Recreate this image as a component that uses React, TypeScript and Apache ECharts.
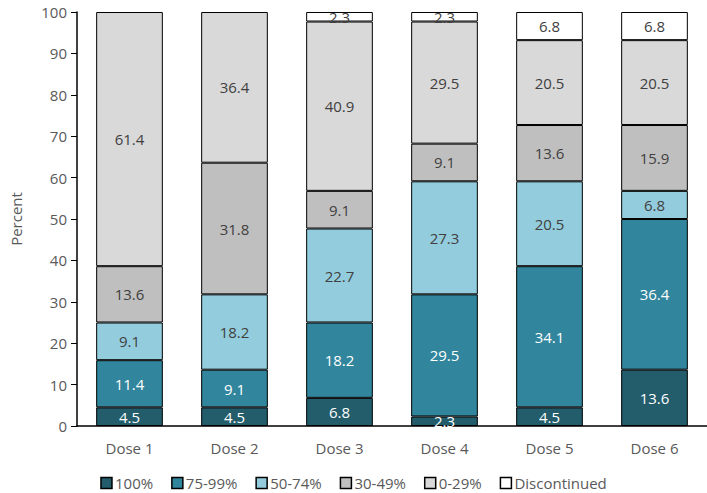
import React, { useEffect, useRef } from "react";
import * as echarts from "echarts";

const categories = ["Dose 1", "Dose 2", "Dose 3", "Dose 4", "Dose 5", "Dose 6"];
const s100 = [4.5, 4.5, 6.8, 2.3, 4.5, 13.6];
const s75 = [11.4, 9.1, 18.2, 29.5, 34.1, 36.4];
const s50 = [9.1, 18.2, 22.7, 27.3, 20.5, 6.8];
const s30 = [13.6, 31.8, 9.1, 9.1, 13.6, 15.9];
const s0 = [61.4, 36.4, 40.9, 29.5, 20.5, 20.5];
const sDisc = [0, 0, 2.3, 2.3, 6.8, 6.8];
const yTicks = [0, 10, 20, 30, 40, 50, 60, 70, 80, 90, 100];

const seriesDefs = [
  { name: "100%", data: s100, color: "#235c6b", label: "#ffffff" },
  { name: "75-99%", data: s75, color: "#31859c", label: "#ffffff" },
  { name: "50-74%", data: s50, color: "#93cddd", label: "#404040" },
  { name: "30-49%", data: s30, color: "#bfbfbf", label: "#404040" },
  { name: "0-29%", data: s0, color: "#d9d9d9", label: "#404040" },
  { name: "Discontinued", data: sDisc, color: "#ffffff", label: "#404040" },
];

const FONT = "'Open Sans', 'Noto Sans', sans-serif";

export default function App() {
  const ref = useRef<HTMLDivElement>(null);
  useEffect(() => {
    if (!ref.current) return;
    const chart = echarts.init(ref.current, undefined, { renderer: "svg" });
    chart.setOption({
      animation: false,
      textStyle: { fontFamily: FONT },
      grid: { left: 66, right: 0, top: 12, bottom: 67, containLabel: false },
      legend: {
        top: 474,
        left: "center",
        padding: 0,
        itemWidth: 11,
        itemHeight: 11,
        itemGap: 18,
        icon: "rect",
        textStyle: { fontFamily: FONT, fontSize: 15, lineHeight: 18, color: "#595959", padding: [0, 0, 0, -2] },
        data: seriesDefs.map((s) => ({ name: s.name, itemStyle: { borderColor: "#000", borderWidth: 1.5 } })),
      },
      xAxis: {
        type: "category",
        data: categories,
        axisLine: { lineStyle: { color: "#000", width: 1.5 } },
        axisTick: { show: false },
        axisLabel: { fontFamily: FONT, fontSize: 15, color: "#595959", margin: 14 },
      },
      yAxis: {
        type: "value",
        min: 0,
        max: 100,
        interval: 10,
        name: "Percent",
        nameLocation: "middle",
        nameGap: 54,
        nameTextStyle: { fontFamily: FONT, fontSize: 15, color: "#595959" },
        axisLine: { show: true, lineStyle: { color: "#000", width: 1.5 } },
        axisTick: { show: true, length: 6, lineStyle: { color: "#000" } },
        splitLine: { show: false },
        axisLabel: {
          fontFamily: FONT,
          fontSize: 15,
          color: "#595959",
          margin: 10,
          formatter: (v: number) => (yTicks.includes(v) ? String(v) : ""),
        },
      },
      series: seriesDefs.map((s) => ({
        name: s.name,
        type: "bar",
        stack: "total",
        barWidth: "63.5%",
        data: s.data.map((v) => (v === 0 ? null : v)),
        itemStyle: { color: s.color, borderColor: "#000", borderWidth: 1 },
        label: {
          show: true,
          position: "inside",
          fontFamily: FONT,
          fontSize: 15,
          color: s.label,
          formatter: (p: any) => Number(p.value).toFixed(1),
        },
      })),
    });
    return () => chart.dispose();
  }, []);
  return <div ref={ref} style={{ width: 707, height: 493, position: "absolute", left: 0, top: 0 }} />;
}
